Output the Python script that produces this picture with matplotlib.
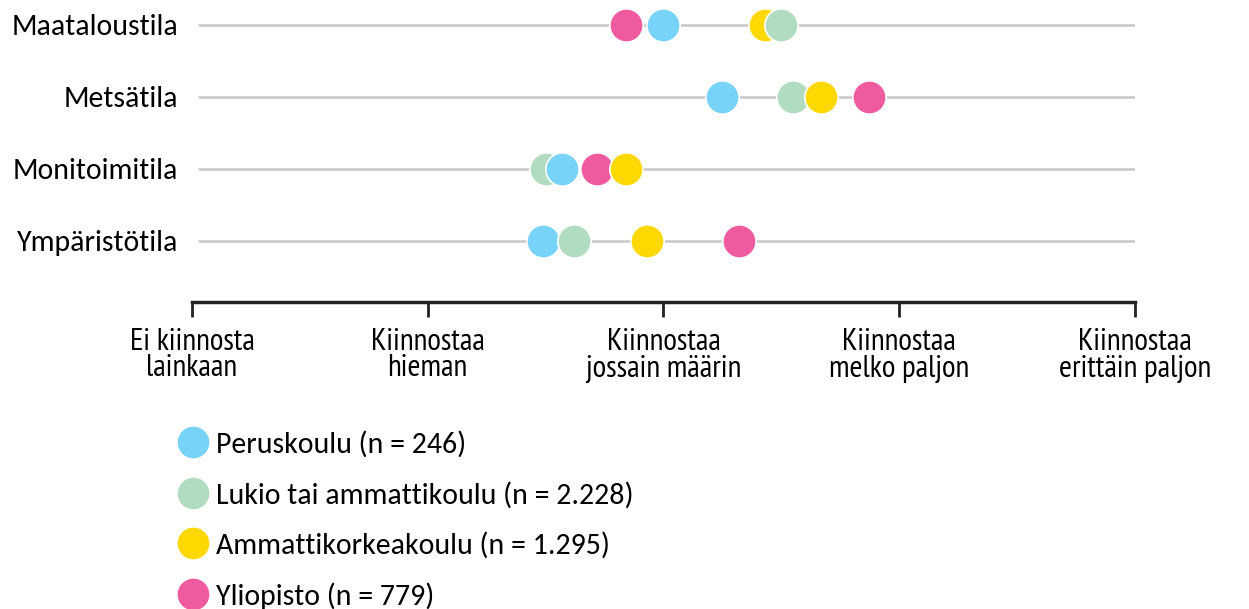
import matplotlib
matplotlib.use("Agg")
import matplotlib.pyplot as plt
from matplotlib.lines import Line2D

categories = ["Maataloustila", "Metsätila", "Monitoimitila", "Ympäristötila"]
series = ["Peruskoulu (n = 246)", "Lukio tai ammattikoulu (n = 2.228)",
          "Ammattikorkeakoulu (n = 1.295)", "Yliopisto (n = 779)"]
peruskoulu = [3.00, 3.25, 2.57, 2.49]
lukio = [3.50, 3.55, 2.50, 2.62]
amk = [3.43, 3.67, 2.84, 2.93]
yliopisto = [2.84, 3.87, 2.72, 3.32]
values = [peruskoulu, lukio, amk, yliopisto]
colors = ["#78D3F8", "#B2DCC0", "#FFD800", "#F05A9E"]
tick_labels = ["Ei kiinnosta\nlainkaan", "Kiinnostaa\nhieman", "Kiinnostaa\njossain määrin",
               "Kiinnostaa\nmelko paljon", "Kiinnostaa\nerittäin paljon"]

SANS = ["Carlito", "Open Sans", "DejaVu Sans"]
NARROW = ["PT Sans Narrow", "Roboto Condensed", "Open Sans Condensed", "DejaVu Sans"]

W, H = 1249, 609
fig = plt.figure(figsize=(W / 100, H / 100), dpi=100)
ax = fig.add_axes([192 / W, 1 - 302 / H, (1135 - 192) / W, 302 / H])

ax.set_xlim(1, 5)
ax.set_ylim(3.85, -0.347)

for i in range(len(categories)):
    ax.plot([1.025, 5], [i, i], color="#C8C8C8", lw=1.8, zorder=1, solid_capstyle="butt")
    pts = sorted([(values[s][i], s) for s in range(len(series))])
    for k, (v, s) in enumerate(pts):
        ax.plot([v], [i], marker="o", ms=24, color=colors[s], mec="white", mew=1.2,
                zorder=3 + k, clip_on=False, ls="none")

ax.set_yticks(range(len(categories)))
ax.set_yticklabels(categories, fontsize=21.5, family=SANS)
ax.tick_params(axis="y", length=0, pad=10)

ax.set_xticks([1, 2, 3, 4, 5])
ax.set_xticklabels(tick_labels, fontsize=22.5, linespacing=0.9, family=NARROW)
ax.tick_params(axis="x", length=10.5, width=2, color="#222222", pad=8.5, direction="out")

for sp in ["top", "right", "left"]:
    ax.spines[sp].set_visible(False)
ax.spines["bottom"].set_linewidth(2.5)
ax.spines["bottom"].set_color("#222222")
ax.spines["bottom"].set_capstyle("projecting")

handles = [Line2D([], [], marker="o", ls="none", ms=24, color=c, mec="white", mew=1.2) for c in colors]
fig.legend(handles, series, loc="upper left", bbox_to_anchor=(160 / W, 1 - 416 / H),
           frameon=False, labelspacing=0.785, handletextpad=0.17,
           borderpad=0, handlelength=1.2, prop={"family": SANS, "size": 21.5})

fig.savefig("out.png", dpi=100, facecolor="white")
